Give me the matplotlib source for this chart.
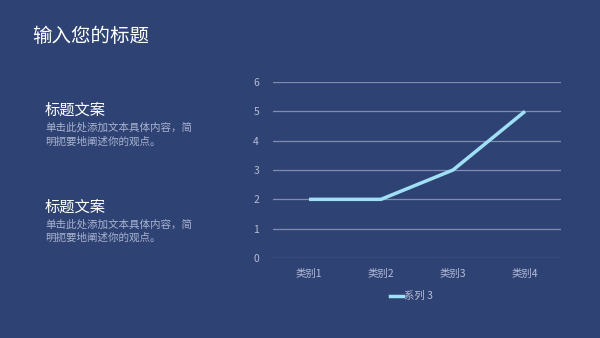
import matplotlib.pyplot as plt
from matplotlib.lines import Line2D

plt.rcParams['font.family'] = ['Noto Sans CJK SC', 'DejaVu Sans']

categories = ["类别1", "类别2", "类别3", "类别4"]
series3 = [2, 2, 3, 5]
y_ticks = [0, 1, 2, 3, 4, 5, 6]

title = "输入您的标题"
block_title = "标题文案"
block_body = "单击此处添加文本具体内容，简\n明扼要地阐述你的观点。"

bg = "#2E4274"
line_color = "#9FE0F5"
grid_color = "#7F8DB0"
tick_color = "#B4BDD6"

fig = plt.figure(figsize=(6, 3.38), dpi=100)
fig.patch.set_facecolor(bg)

# title and text blocks
fig.text(32 / 600, 1 - 37 / 338, title, color="white", fontsize=14, va="center")
for y_head, y_body in [(110, 134.5), (207, 231)]:
    fig.text(45 / 600, 1 - y_head / 338, block_title, color="white", fontsize=11, va="center")
    fig.text(45 / 600, 1 - y_body / 338, block_body, color="#A9B3CF", fontsize=7.6,
             va="center", linespacing=1.45)

# chart
ax = fig.add_axes([273 / 600, 1 - 258 / 338, 288 / 600, 176 / 338])
ax.set_facecolor(bg)
x = range(len(categories))
ax.plot(x, series3, color=line_color, lw=2.5, solid_capstyle="butt")
ax.set_xlim(-0.5, len(categories) - 0.5)
ax.set_ylim(0, 6)
ax.set_yticks(y_ticks)
ax.set_xticks(list(x))
ax.set_xticklabels(categories)
ax.grid(axis="y", color=grid_color, lw=0.9)
ax.set_axisbelow(True)
for s in ax.spines.values():
    s.set_visible(False)
ax.tick_params(length=0, colors=tick_color, labelsize=7.5)
ax.tick_params(axis="y", pad=10)
ax.tick_params(axis="x", pad=8)

handle = Line2D([], [], color=line_color, lw=2.5)
leg = ax.legend([handle], ["系列 3"], loc="upper center", bbox_to_anchor=(0.48, -0.135),
                frameon=False, fontsize=7.5, handlelength=1.3, handletextpad=0.1)
for t in leg.get_texts():
    t.set_color(tick_color)

fig.savefig("out.png", dpi=100, facecolor=bg)
